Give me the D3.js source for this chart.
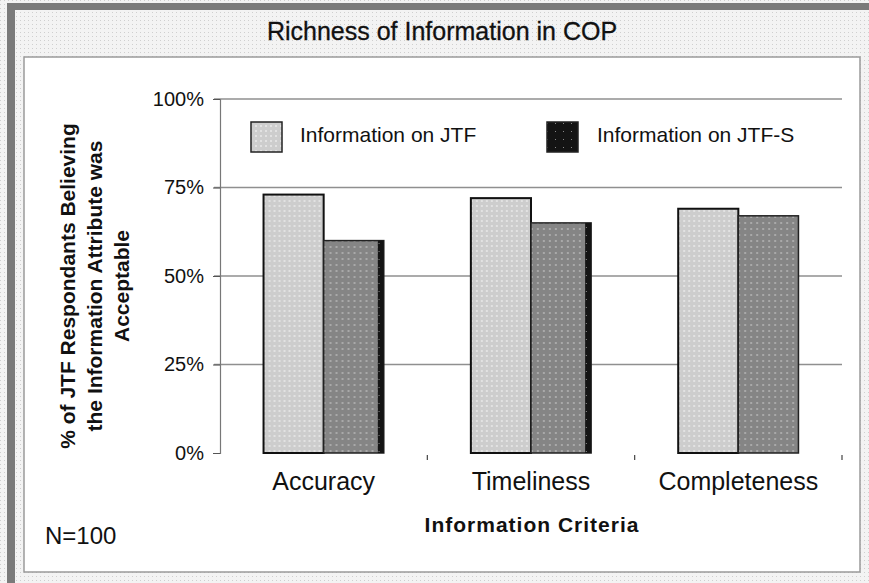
<!DOCTYPE html>
<html>
<head>
<meta charset="utf-8">
<script src="https://cdn.jsdelivr.net/npm/d3@7"></script>
<style>
  body { margin: 0; background: #fff; }
  svg { display: block; font-family: "Liberation Sans", Arial, sans-serif; }
</style>
</head>
<body>
<svg id="chart" width="869" height="583"></svg>
<script>
const categories = ["Accuracy", "Timeliness", "Completeness"];
const seriesNames = ["Information on JTF", "Information on JTF-S"];
const jtfValues = [73, 72, 69];
const jtfsValues = [60, 65, 67];
const yTicks = [0, 25, 50, 75, 100];

const svg = d3.select("#chart");
const width = +svg.attr("width");
const height = +svg.attr("height");
const margin = { top: 99, right: 27, bottom: 130, left: 220 };

const defs = svg.append("defs");

// dotted scan-like textures
const bg = defs.append("pattern").attr("id", "bgdots")
  .attr("width", 4).attr("height", 4).attr("patternUnits", "userSpaceOnUse");
bg.append("rect").attr("width", 4).attr("height", 4).attr("fill", "#f3f3f3");
bg.append("rect").attr("width", 1).attr("height", 1).attr("fill", "#cfcfcf");

const light = defs.append("pattern").attr("id", "lightfill")
  .attr("width", 5).attr("height", 5).attr("patternUnits", "userSpaceOnUse");
light.append("rect").attr("width", 5).attr("height", 5).attr("fill", "#cdcdcd");
light.append("rect").attr("width", 2).attr("height", 2).attr("fill", "#e2e2e2");

const dark = defs.append("pattern").attr("id", "darkfill")
  .attr("width", 6).attr("height", 6).attr("patternUnits", "userSpaceOnUse");
dark.append("rect").attr("width", 6).attr("height", 6).attr("fill", "#858585");
dark.append("rect").attr("width", 2).attr("height", 2).attr("fill", "#a9a9a9");

const blk = defs.append("pattern").attr("id", "blackfill")
  .attr("width", 8).attr("height", 8).attr("patternUnits", "userSpaceOnUse");
blk.append("rect").attr("width", 8).attr("height", 8).attr("fill", "#141414");
blk.append("rect").attr("x", 3).attr("y", 3).attr("width", 1).attr("height", 1).attr("fill", "#888");

// page frame
svg.append("rect").attr("width", width).attr("height", height).attr("fill", "url(#bgdots)");
svg.append("rect").attr("x", 7).attr("y", 3).attr("width", width - 7).attr("height", 7).attr("fill", "#7a7a7a");
svg.append("rect").attr("x", 7).attr("y", 3).attr("width", 8).attr("height", height - 3).attr("fill", "#7a7a7a");
svg.append("rect").attr("x", 24).attr("y", 57).attr("width", 836).attr("height", 515)
  .attr("fill", "#fff").attr("stroke", "#9a9a9a").attr("stroke-width", 1.5);

svg.append("text").attr("x", 442).attr("y", 40).attr("text-anchor", "middle")
  .attr("font-size", 25).attr("fill", "#111").attr("stroke", "#111").attr("stroke-width", 0.3)
  .text("Richness of Information in COP");

const x0 = d3.scaleBand().domain(categories)
  .range([margin.left, width - margin.right])
  .paddingInner(0.42).paddingOuter(0.21);
const x1 = d3.scaleBand().domain(seriesNames).range([0, x0.bandwidth()]);
const y = d3.scaleLinear().domain([0, 100]).range([height - margin.bottom, margin.top]);

// gridlines
svg.append("g").selectAll("line").data(yTicks.filter(d => d > 0)).join("line")
  .attr("x1", margin.left - 6).attr("x2", width - margin.right)
  .attr("y1", d => y(d)).attr("y2", d => y(d))
  .attr("stroke", "#8f8f8f").attr("stroke-width", 1.5);

// y axis
const yAxis = svg.append("g").attr("transform", `translate(${margin.left},0)`)
  .call(d3.axisLeft(y).tickValues(yTicks).tickFormat(d => d + "%").tickSize(7).tickPadding(9));
yAxis.select(".domain").attr("stroke", "#777").attr("stroke-width", 1.2);
yAxis.selectAll(".tick line").attr("stroke", "#555");
yAxis.selectAll("text").attr("font-size", 20).attr("fill", "#111")
  .attr("font-family", "Liberation Sans, Arial, sans-serif");

// x axis: small ticks at category boundaries, no visible baseline
const step = x0.step();
svg.append("g").selectAll("line").data(categories).join("line")
  .attr("x1", d => x0(d) + x0.bandwidth() / 2 + step / 2)
  .attr("x2", d => x0(d) + x0.bandwidth() / 2 + step / 2)
  .attr("y1", y(0) + 2).attr("y2", y(0) + 7)
  .attr("stroke", "#444").attr("stroke-width", 1.2);

svg.append("g").selectAll("text").data(categories).join("text")
  .attr("x", d => x0(d) + x0.bandwidth() / 2).attr("y", 490)
  .attr("text-anchor", "middle").attr("font-size", 25).attr("fill", "#111")
  .text(d => d);

// bars
const groups = svg.append("g").selectAll("g").data(categories).join("g")
  .attr("transform", d => `translate(${x0(d)},0)`);

groups.append("rect")
  .attr("x", x1(seriesNames[0])).attr("width", x1.bandwidth())
  .attr("y", (d, i) => y(jtfValues[i])).attr("height", (d, i) => y(0) - y(jtfValues[i]))
  .attr("fill", "url(#lightfill)").attr("stroke", "#111").attr("stroke-width", 2);

groups.append("rect")
  .attr("x", x1(seriesNames[1])).attr("width", x1.bandwidth())
  .attr("y", (d, i) => y(jtfsValues[i])).attr("height", (d, i) => y(0) - y(jtfsValues[i]))
  .attr("fill", "url(#darkfill)").attr("stroke", "#222").attr("stroke-width", 1.5);

// dark shadow edge on the first two JTF-S bars
groups.filter((d, i) => i < 2).append("rect")
  .attr("x", x1(seriesNames[1]) + x1.bandwidth() - 6).attr("width", 6)
  .attr("y", (d, i) => y(jtfsValues[i])).attr("height", (d, i) => y(0) - y(jtfsValues[i]))
  .attr("fill", "url(#blackfill)");

// legend
const legendItems = [
  { label: seriesNames[0], fill: "url(#lightfill)", x: 251, tx: 300 },
  { label: seriesNames[1], fill: "url(#blackfill)", x: 547, tx: 597 }
];
const lg = svg.append("g").selectAll("g").data(legendItems).join("g");
lg.append("rect").attr("x", d => d.x).attr("y", 122).attr("width", 31).attr("height", 30)
  .attr("fill", d => d.fill).attr("stroke", "#222").attr("stroke-width", 1.5);
lg.append("text").attr("x", d => d.tx).attr("y", 142).attr("font-size", 21)
  .attr("fill", "#111").text(d => d.label);

// axis titles
const yTitle = ["% of JTF Respondants Believing", "the Information Attribute was", "Acceptable"];
svg.append("g").selectAll("text").data(yTitle).join("text")
  .attr("transform", (d, i) => `translate(${75 + i * 27},286) rotate(-90)`)
  .attr("text-anchor", "middle").attr("font-size", 21).attr("font-weight", "bold")
  .attr("fill", "#111").text(d => d);

svg.append("text").attr("x", 532).attr("y", 532).attr("text-anchor", "middle")
  .attr("font-size", 21).attr("font-weight", "bold").attr("letter-spacing", 1)
  .attr("fill", "#111").text("Information Criteria");

svg.append("text").attr("x", 45).attr("y", 544).attr("font-size", 24)
  .attr("fill", "#111").text("N=100");
</script>
</body>
</html>
